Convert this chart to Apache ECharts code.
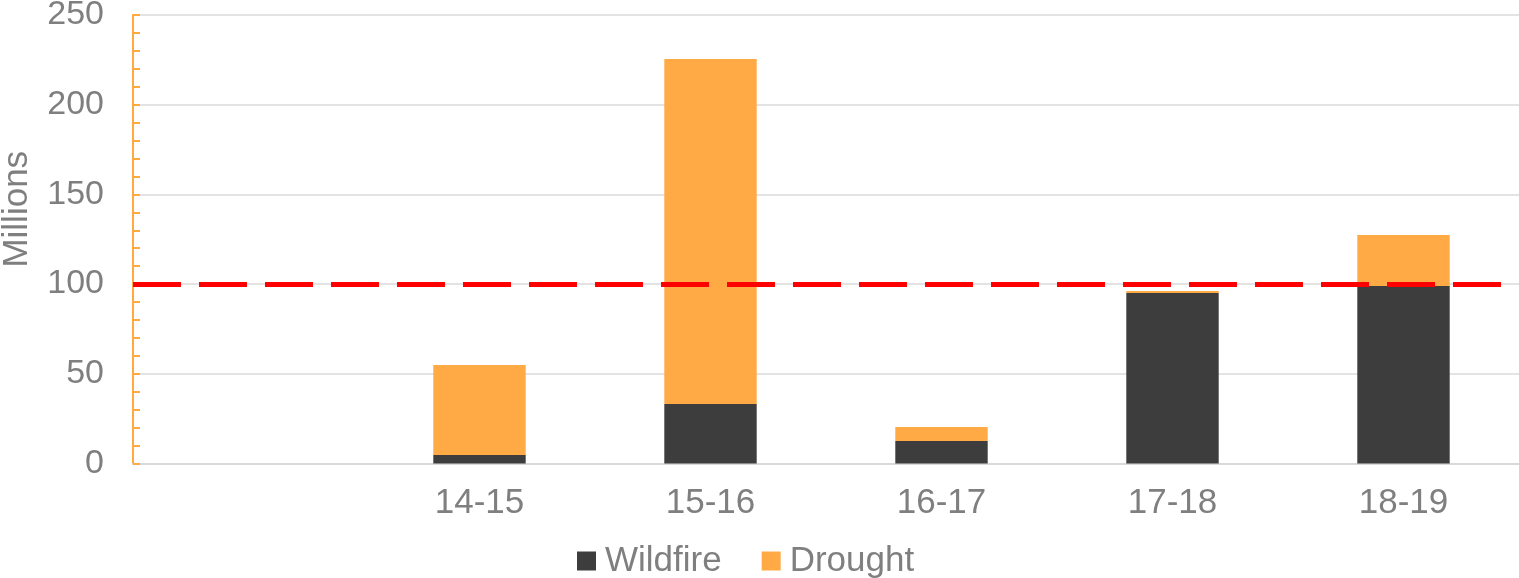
<!DOCTYPE html>
<html>
<head>
<meta charset="utf-8">
<script src="https://cdn.jsdelivr.net/npm/echarts@6/dist/echarts.min.js"></script>
<style>
  html, body { margin: 0; padding: 0; background: #fff; }
  #chart { width: 1519px; height: 578px; }
</style>
</head>
<body>
<div id="chart"></div>
<script>
  // season categories (first slot is left empty in the original)
  var categories = ["", "14-15", "15-16", "16-17", "17-18", "18-19"];
  var wildfire = [null, 4.7, 33.2, 12.5, 95.0, 98.9];
  var drought = [null, 50.2, 192.3, 7.8, 1.2, 28.5];
  var threshold = 100;
  var yTicks = { min: 0, max: 250, interval: 50 };

  var grey = "#7F7F7F";
  var font = "Liberation Sans, Arial, sans-serif";

  var chart = echarts.init(document.getElementById("chart"), null, { renderer: "canvas" });
  var option = {
    animation: false,
    textStyle: { fontFamily: font },
    grid: {
      left: 133,
      right: 0,
      top: 15,
      bottom: 114.5,
      containLabel: false,
      outerBoundsMode: "none",
    },
    legend: {
      left: 577,
      top: 541,
      padding: 0,
      itemWidth: 19,
      itemHeight: 19,
      itemGap: 40,
      icon: "rect",
      data: ["Wildfire", "Drought"],
      textStyle: {
        color: grey,
        fontSize: 35,
        fontFamily: font,
        lineHeight: 40,
        padding: [0, 0, 0, 4],
      },
    },
    xAxis: {
      type: "category",
      data: categories,
      axisLine: { show: true, lineStyle: { color: "#D9D9D9", width: 2 } },
      axisTick: { show: false },
      axisLabel: {
        color: grey,
        fontSize: 35,
        fontFamily: font,
        margin: 22,
        interval: 0,
      },
    },
    yAxis: {
      type: "value",
      min: yTicks.min,
      max: yTicks.max,
      interval: yTicks.interval,
      name: "Millions",
      nameLocation: "middle",
      nameGap: 98,
      nameTextStyle: {
        color: grey,
        fontSize: 35,
        fontFamily: font,
        padding: [0, 0, 0, 60],
      },
      axisLine: { show: true, lineStyle: { color: "#FFA940", width: 2 } },
      axisTick: { show: true, inside: true, length: 7, lineStyle: { color: "#FFA940", width: 2 } },
      minorTick: { show: true, splitNumber: 5, length: 7, lineStyle: { color: "#FFA940", width: 2 } },
      axisLabel: {
        color: grey,
        fontSize: 34,
        fontFamily: font,
        margin: 29,
      },
      splitLine: { show: true, lineStyle: { color: "#E3E3E3", width: 2 } },
    },
    series: [
      {
        name: "Wildfire",
        type: "bar",
        stack: "total",
        barWidth: "40%",
        data: wildfire,
        itemStyle: { color: "#3D3D3D" },
        markLine: {
          silent: true,
          symbol: "none",
          label: { show: false },
          lineStyle: { color: "#FF0000", width: 5, type: [48, 18] },
          data: [{ yAxis: threshold }],
        },
        z: 2,
      },
      {
        name: "Drought",
        type: "bar",
        stack: "total",
        barWidth: "40%",
        data: drought,
        itemStyle: { color: "#FFAA44" },
        z: 2,
      },
    ],
  };
  chart.setOption(option);
</script>
</body>
</html>
